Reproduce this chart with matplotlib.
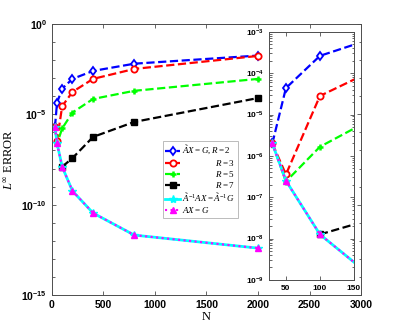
import math

import matplotlib
matplotlib.use("Agg")
import matplotlib.pyplot as plt
from matplotlib import ticker

plt.rcParams["font.family"] = "Liberation Sans"
plt.rcParams["mathtext.fontset"] = "custom"
plt.rcParams["mathtext.rm"] = "Liberation Serif"
plt.rcParams["mathtext.it"] = "Liberation Serif:italic"
plt.rcParams["mathtext.bf"] = "Liberation Serif:bold"
plt.rcParams["mathtext.sf"] = "Liberation Sans:bold"

# problem sizes
n_all = [30, 50, 100, 200, 400, 800, 2000]
n_r7 = [100, 200, 400, 800, 2000]

# log10 of the L-infinity error
err_r2 = [-5.70, -4.36, -3.58, -3.04, -2.60, -2.20, -1.75]
err_r3 = [-5.70, -6.45, -4.55, -3.76, -3.04, -2.49, -1.77]
err_r5 = [-5.70, -6.62, -5.78, -4.90, -4.15, -3.70, -3.04]
err_r7 = [-7.90, -7.42, -6.25, -5.42, -4.10]
err_precond = [-5.70, -6.60, -7.90, -9.24, -10.46, -11.68, -12.40]
err_direct = [-5.70, -6.60, -7.90, -9.24, -10.46, -11.68, -12.40]

labels = [
    r"$\tilde{A}X=G,R=2$",
    r"$\hspace{5.2}R=3$",
    r"$\hspace{5.2}R=5$",
    r"$\hspace{5.2}R=7$",
    r"$\tilde{A}^{-1}AX=\tilde{A}^{-1}G$",
    r"$AX=G$",
]

AXIS_COLOR = "#4d4d4d"


def pw(vals):
    return [10.0 ** v for v in vals]


def draw_series(ax):
    ax.plot(n_all, pw(err_r2), "--", color="#0000ff", lw=1.6, marker="d",
            ms=4.5, mfc="white", mec="#0000ff", mew=1.3, label=labels[0])
    ax.plot(n_all, pw(err_r3), "--", color="#ff0000", lw=1.6, marker="o",
            ms=4.5, mfc="white", mec="#ff0000", mew=1.3, label=labels[1])
    ax.plot(n_all, pw(err_r5), "--", color="#00ff00", lw=1.6, marker="+",
            ms=5, mew=1.8, label=labels[2])
    ax.plot(n_r7, pw(err_r7), "--", color="black", lw=1.6, marker="s",
            ms=4, mfc="black", label=labels[3])
    ax.plot(n_all, pw(err_precond), "-", color="#00ffff", lw=2.0, marker="*",
            ms=6, label=labels[4])
    ax.plot(n_all, pw(err_direct), ":", color="#ff00ff", lw=1.5, marker="^",
            ms=5, mfc="#ff00ff", label=labels[5])


def style_axes(ax, size):
    for sp in ax.spines.values():
        sp.set_color(AXIS_COLOR)
        sp.set_linewidth(0.7)
    ax.tick_params(which="both", direction="in", top=True, right=True,
                   color=AXIS_COLOR, width=0.6, labelsize=size)
    ax.tick_params(which="major", length=3)
    ax.tick_params(which="minor", length=1.8)
    for t in ax.get_xticklabels():
        t.set_fontweight("bold")


def sci_fmt(v, pos):
    k = int(round(math.log10(v)))
    return r"$\mathsf{10^{%d}}$" % k


fig = plt.figure(figsize=(3.99, 3.32), dpi=100)
ax = fig.add_axes([0.130, 0.111, 0.775, 0.817])
draw_series(ax)
ax.set_yscale("log")
ax.set_xlim(0, 3000)
ax.set_ylim(1e-15, 1)
ax.set_xticks([0, 500, 1000, 1500, 2000, 2500, 3000])
ax.set_yticks([1e-15, 1e-10, 1e-5, 1])
ax.set_yticks([10.0 ** -k for k in range(16)], minor=True)
ax.yaxis.set_minor_formatter(ticker.NullFormatter())
ax.yaxis.set_major_formatter(ticker.FuncFormatter(sci_fmt))
style_axes(ax, 7.5)
ax.set_xlabel("N", family="Liberation Serif", fontsize=9, labelpad=1)
ax.set_ylabel(r"$L^{\infty}$ ERROR", family="Liberation Serif", fontsize=9, labelpad=3)

leg = ax.legend(loc="upper left", bbox_to_anchor=(0.358, 0.567), fontsize=6.5,
                handlelength=1.6, handletextpad=0.3, labelspacing=0.12,
                borderpad=0.3, borderaxespad=0, fancybox=False, framealpha=1)
leg.get_frame().set_edgecolor("#bbbbbb")
leg.get_frame().set_linewidth(0.7)

ins = fig.add_axes([0.674, 0.157, 0.213, 0.747])
draw_series(ins)
ins.set_yscale("log")
ins.set_xlim(25, 150)
ins.set_ylim(1e-9, 1e-3)
ins.set_xticks([50, 100, 150])
ins.set_yticks([10.0 ** -k for k in range(3, 10)])
ins.yaxis.set_minor_locator(ticker.LogLocator(base=10, subs=range(2, 10), numticks=20))
ins.yaxis.set_minor_formatter(ticker.NullFormatter())
ins.yaxis.set_major_formatter(ticker.FuncFormatter(sci_fmt))
style_axes(ins, 6)
ins.set_facecolor("white")

fig.savefig("out.png", dpi=100)
